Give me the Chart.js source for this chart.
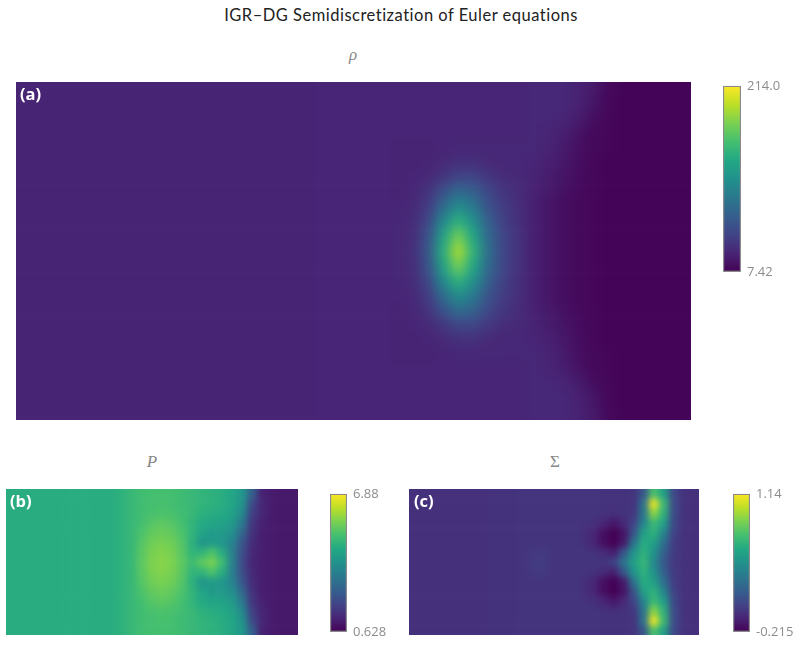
<!DOCTYPE html>
<html><head><meta charset="utf-8">
<script src="https://cdn.jsdelivr.net/npm/chart.js@4"></script>
<style>
html,body{margin:0;padding:0;background:#fff;width:801px;height:657px;overflow:hidden}
.t{position:absolute;white-space:nowrap;transform:translate(-50%,-50%)}
.title{font-family:Lato,sans-serif;font-size:16.5px;color:#222;letter-spacing:.5px}
.sub{font-family:"Liberation Serif",serif;font-style:italic;font-size:17px;color:#888}
.tag{position:absolute;font-family:"Open Sans",sans-serif;font-weight:700;font-size:16.5px;color:#fff;line-height:1}
.heat{position:absolute;overflow:hidden}
.heat canvas{position:absolute}
.bar{position:absolute}
</style></head><body>
<div class="t title" style="left:401px;top:15px">IGR–DG Semidiscretization of Euler equations</div>
<div class="t sub" style="left:353px;top:55px">ρ</div>
<div class="t sub" style="left:152px;top:462px">P</div>
<div class="t sub" style="left:555px;top:462px;font-style:normal">Σ</div>
<div class="heat" id="hA" style="left:16px;top:82px;width:675px;height:338px"><canvas id="cA"></canvas></div>
<div class="heat" id="hB" style="left:6px;top:489px;width:292px;height:146px"><canvas id="cB"></canvas></div>
<div class="heat" id="hC" style="left:409px;top:489px;width:290px;height:146px"><canvas id="cC"></canvas></div>
<div class="tag" style="left:20px;top:86px">(a)</div>
<div class="tag" style="left:10px;top:493px">(b)</div>
<div class="tag" style="left:414px;top:493px">(c)</div>
<canvas class="bar" id="barA"></canvas>
<canvas class="bar" id="barB"></canvas>
<canvas class="bar" id="barC"></canvas>
<script>
// Density rho, one row per horizontal band, top to bottom
const rho00=[28,28,28,28,28,28,28,28,28,28,28,28,28,28,28,28,28,28,28,28,29,29,29,29,29,29,29,29,29,29,29,29,29,29,30,30,30,27,22,12,10,10,10,10,10];
const rho01=[28,28,28,28,28,28,28,28,28,28,28,28,28,28,28,28,28,28,28,28,29,29,29,29,29,29,29,29,29,29,29,29,29,29,30,30,30,27,20,11,10,10,10,10,10];
const rho02=[28,28,28,28,28,28,28,28,28,28,28,28,28,28,28,28,28,28,28,28,29,29,29,29,29,29,29,29,29,29,29,29,29,29,30,30,29,24,15,11,10,10,10,10,10];
const rho03=[28,28,28,28,28,28,28,28,28,28,28,28,28,28,28,28,28,28,28,28,29,29,29,29,29,29,29,29,29,29,29,29,29,29,30,29,25,18,12,11,10,10,10,10,10];
const rho04=[28,28,28,28,28,28,28,28,28,28,28,28,28,28,28,28,28,28,28,28,29,29,29,29,29,28,28,28,29,30,30,30,30,30,30,28,23,16,12,11,10,10,10,10,10];
const rho05=[28,28,28,28,28,28,28,28,28,28,28,28,28,28,28,28,28,28,28,28,29,29,29,29,29,28,28,29,32,36,36,32,30,30,29,26,21,15,11,10,10,10,10,10,10];
const rho06=[28,28,28,28,28,28,28,28,28,28,28,28,28,28,28,28,28,28,28,28,29,29,29,29,29,28,29,31,40,50,50,41,34,31,28,24,19,14,11,10,10,10,10,10,10];
const rho07=[28,28,28,28,28,28,28,28,28,28,28,28,28,28,28,28,28,28,28,28,29,29,29,29,29,28,30,38,60,80,72,52,40,33,27,22,17,13,11,10,10,10,10,10,10];
const rho08=[28,28,28,28,28,28,28,28,28,28,28,28,28,28,28,28,28,28,28,28,29,29,29,29,29,29,31,44,80,108,92,60,44,35,26,20,15,12,11,10,10,10,10,10,10];
const rho09=[28,28,28,28,28,28,28,28,28,28,28,28,28,28,28,28,28,28,28,28,29,29,29,29,29,30,33,52,105,140,112,70,47,36,26,20,15,12,11,10,10,10,10,10,10];
const rho10=[28,28,28,28,28,28,28,28,28,28,28,28,28,28,28,28,28,28,28,28,29,29,29,29,29,30,34,60,125,170,130,78,50,37,26,20,15,12,11,10,10,10,10,10,10];
const rho11=[28,28,28,28,28,28,28,28,28,28,28,28,28,28,28,28,28,28,28,28,29,29,29,29,29,30,35,64,135,188,140,82,50,38,26,20,15,12,11,10,10,10,10,10,10];
const rho12=[28,28,28,28,28,28,28,28,28,28,28,28,28,28,28,28,28,28,28,28,29,29,29,29,29,30,34,60,125,170,130,78,50,37,26,20,15,12,11,10,10,10,10,10,10];
const rho13=[28,28,28,28,28,28,28,28,28,28,28,28,28,28,28,28,28,28,28,28,29,29,29,29,29,30,33,52,105,140,112,70,47,36,26,20,15,12,11,10,10,10,10,10,10];
const rho14=[28,28,28,28,28,28,28,28,28,28,28,28,28,28,28,28,28,28,28,28,29,29,29,29,29,29,31,44,80,108,92,60,44,35,26,20,15,12,11,10,10,10,10,10,10];
const rho15=[28,28,28,28,28,28,28,28,28,28,28,28,28,28,28,28,28,28,28,28,29,29,29,29,29,28,30,38,60,80,72,52,40,33,27,22,17,13,11,10,10,10,10,10,10];
const rho16=[28,28,28,28,28,28,28,28,28,28,28,28,28,28,28,28,28,28,28,28,29,29,29,29,29,28,29,31,40,50,50,41,34,31,28,24,19,14,11,10,10,10,10,10,10];
const rho17=[28,28,28,28,28,28,28,28,28,28,28,28,28,28,28,28,28,28,28,28,29,29,29,29,29,28,28,29,32,36,36,32,30,30,29,26,21,15,11,10,10,10,10,10,10];
const rho18=[28,28,28,28,28,28,28,28,28,28,28,28,28,28,28,28,28,28,28,28,29,29,29,29,29,28,28,28,29,30,30,30,30,30,30,28,23,16,12,11,10,10,10,10,10];
const rho19=[28,28,28,28,28,28,28,28,28,28,28,28,28,28,28,28,28,28,28,28,29,29,29,29,29,29,29,29,29,29,29,29,29,29,30,29,25,18,12,11,10,10,10,10,10];
const rho20=[28,28,28,28,28,28,28,28,28,28,28,28,28,28,28,28,28,28,28,28,29,29,29,29,29,29,29,29,29,29,29,29,29,29,30,30,29,24,15,11,10,10,10,10,10];
const rho21=[28,28,28,28,28,28,28,28,28,28,28,28,28,28,28,28,28,28,28,28,29,29,29,29,29,29,29,29,29,29,29,29,29,29,30,30,30,27,20,11,10,10,10,10,10];
const rho22=[28,28,28,28,28,28,28,28,28,28,28,28,28,28,28,28,28,28,28,28,29,29,29,29,29,29,29,29,29,29,29,29,29,29,30,30,30,27,22,12,10,10,10,10,10];
const rhoRows=[rho00,rho01,rho02,rho03,rho04,rho05,rho06,rho07,rho08,rho09,rho10,rho11,rho12,rho13,rho14,rho15,rho16,rho17,rho18,rho19,rho20,rho21,rho22];

// Pressure P, panel (b)
const p00=[4.5,4.5,4.5,4.5,4.5,4.5,4.5,4.5,4.5,4.5,4.5,4.62,4.8,4.95,5.0,5.0,5.0,4.9,4.8,4.7,4.6,4.5,4.3,3.9,2.5,1.2,1.1,1.05,1.05];
const p01=[4.5,4.5,4.5,4.5,4.5,4.5,4.5,4.5,4.5,4.5,4.5,4.62,4.8,4.95,5.0,5.05,5.0,4.9,4.8,4.7,4.6,4.5,4.3,3.8,2.0,1.3,1.1,1.05,1.05];
const p02=[4.5,4.5,4.5,4.5,4.5,4.5,4.5,4.5,4.5,4.5,4.5,4.62,4.8,4.95,5.05,5.1,5.05,4.95,4.8,4.6,4.5,4.4,4.2,3.5,1.8,1.3,1.1,1.05,1.05];
const p03=[4.5,4.5,4.5,4.5,4.5,4.5,4.5,4.5,4.5,4.5,4.5,4.62,4.8,5.0,5.2,5.3,5.2,5.0,4.7,4.4,4.3,4.2,4.0,3.1,1.6,1.2,1.1,1.05,1.05];
const p04=[4.5,4.5,4.5,4.5,4.5,4.5,4.5,4.5,4.5,4.5,4.5,4.62,4.8,5.1,5.35,5.45,5.35,5.1,4.7,4.25,4.0,4.0,3.7,2.7,1.5,1.15,1.1,1.05,1.05];
const p05=[4.5,4.5,4.5,4.5,4.5,4.5,4.5,4.5,4.5,4.5,4.5,4.62,4.8,5.2,5.5,5.6,5.5,5.2,4.6,3.9,4.05,3.9,3.4,2.3,1.4,1.15,1.1,1.05,1.05];
const p06=[4.5,4.5,4.5,4.5,4.5,4.5,4.5,4.5,4.5,4.5,4.5,4.62,4.8,5.25,5.6,5.7,5.6,5.25,4.7,4.7,5.1,4.5,3.3,2.1,1.35,1.15,1.1,1.05,1.05];
const p07=[4.5,4.5,4.5,4.5,4.5,4.5,4.5,4.5,4.5,4.5,4.5,4.62,4.8,5.3,5.65,5.75,5.65,5.3,4.9,5.3,5.6,4.9,3.4,2.0,1.3,1.15,1.1,1.05,1.05];
const p08=[4.5,4.5,4.5,4.5,4.5,4.5,4.5,4.5,4.5,4.5,4.5,4.62,4.8,5.25,5.6,5.7,5.6,5.25,4.7,4.7,5.1,4.5,3.3,2.1,1.35,1.15,1.1,1.05,1.05];
const p09=[4.5,4.5,4.5,4.5,4.5,4.5,4.5,4.5,4.5,4.5,4.5,4.62,4.8,5.2,5.5,5.6,5.5,5.2,4.6,3.9,4.05,3.9,3.4,2.3,1.4,1.15,1.1,1.05,1.05];
const p10=[4.5,4.5,4.5,4.5,4.5,4.5,4.5,4.5,4.5,4.5,4.5,4.62,4.8,5.1,5.35,5.45,5.35,5.1,4.7,4.25,4.0,4.0,3.7,2.7,1.5,1.15,1.1,1.05,1.05];
const p11=[4.5,4.5,4.5,4.5,4.5,4.5,4.5,4.5,4.5,4.5,4.5,4.62,4.8,5.0,5.2,5.3,5.2,5.0,4.7,4.4,4.3,4.2,4.0,3.1,1.6,1.2,1.1,1.05,1.05];
const p12=[4.5,4.5,4.5,4.5,4.5,4.5,4.5,4.5,4.5,4.5,4.5,4.62,4.8,4.95,5.05,5.1,5.05,4.95,4.8,4.6,4.5,4.4,4.2,3.5,1.8,1.3,1.1,1.05,1.05];
const p13=[4.5,4.5,4.5,4.5,4.5,4.5,4.5,4.5,4.5,4.5,4.5,4.62,4.8,4.95,5.0,5.05,5.0,4.9,4.8,4.7,4.6,4.5,4.3,3.8,2.0,1.3,1.1,1.05,1.05];
const p14=[4.5,4.5,4.5,4.5,4.5,4.5,4.5,4.5,4.5,4.5,4.5,4.62,4.8,4.95,5.0,5.0,5.0,4.9,4.8,4.7,4.6,4.5,4.3,3.9,2.5,1.2,1.1,1.05,1.05];
const pRows=[p00,p01,p02,p03,p04,p05,p06,p07,p08,p09,p10,p11,p12,p13,p14];

// Sigma, panel (c)
const s00=[-.03,-.03,-.03,-.03,-.03,-.03,-.03,-.03,-.02,-.02,-.02,-.01,-.01,-.01,-.01,-.01,-.01,-.01,-.01,-.02,-.02,-.02,-.01,.15,.75,.55,.08,-.02,-.03];
const s01=[-.03,-.03,-.03,-.03,-.03,-.03,-.03,-.03,-.02,-.02,-.02,-.01,-.01,-.01,-.01,-.01,-.01,-.01,-.01,-.02,-.02,-.02,-.01,.3,1.1,.7,.1,-.02,-.03];
const s02=[-.03,-.03,-.03,-.03,-.03,-.03,-.03,-.03,-.02,-.02,-.02,-.01,-.01,-.01,-.01,-.01,-.01,-.01,-.01,-.02,-.03,-.02,0,.32,.9,.65,.1,-.02,-.03];
const s03=[-.03,-.03,-.03,-.03,-.03,-.03,-.03,-.03,-.02,-.02,-.02,-.01,-.01,-.01,-.01,-.01,-.01,-.02,-.03,-.07,-.13,-.06,.06,.4,.7,.55,.08,-.02,-.03];
const s04=[-.03,-.03,-.03,-.03,-.03,-.03,-.03,-.03,-.02,-.02,-.02,-.01,-.01,-.01,-.01,-.01,-.01,-.03,-.07,-.16,-.215,-.14,.13,.55,.65,.4,.05,-.02,-.03];
const s05=[-.03,-.03,-.03,-.03,-.03,-.03,-.03,-.03,-.02,-.02,-.02,-.01,-.01,-.01,-.01,-.01,-.01,-.03,-.07,-.16,-.215,-.12,.3,.62,.55,.28,.03,-.02,-.03];
const s06=[-.03,-.03,-.03,-.03,-.03,-.03,-.03,-.03,-.02,-.02,-.02,-.01,.01,.01,-.01,-.01,-.01,-.01,-.02,-.05,-.1,.15,.48,.65,.48,.2,.02,-.02,-.03];
const s07=[-.03,-.03,-.03,-.03,-.03,-.03,-.03,-.03,-.02,-.02,-.02,-.01,.02,.02,-.01,-.01,-.01,-.01,-.01,-.01,.05,.3,.55,.68,.42,.16,.01,-.02,-.03];
const s08=[-.03,-.03,-.03,-.03,-.03,-.03,-.03,-.03,-.02,-.02,-.02,-.01,.01,.01,-.01,-.01,-.01,-.01,-.02,-.05,-.1,.15,.48,.65,.48,.2,.02,-.02,-.03];
const s09=[-.03,-.03,-.03,-.03,-.03,-.03,-.03,-.03,-.02,-.02,-.02,-.01,-.01,-.01,-.01,-.01,-.01,-.03,-.07,-.16,-.215,-.12,.3,.62,.55,.28,.03,-.02,-.03];
const s10=[-.03,-.03,-.03,-.03,-.03,-.03,-.03,-.03,-.02,-.02,-.02,-.01,-.01,-.01,-.01,-.01,-.01,-.03,-.07,-.16,-.215,-.14,.13,.55,.65,.4,.05,-.02,-.03];
const s11=[-.03,-.03,-.03,-.03,-.03,-.03,-.03,-.03,-.02,-.02,-.02,-.01,-.01,-.01,-.01,-.01,-.01,-.02,-.03,-.07,-.13,-.06,.06,.4,.7,.55,.08,-.02,-.03];
const s12=[-.03,-.03,-.03,-.03,-.03,-.03,-.03,-.03,-.02,-.02,-.02,-.01,-.01,-.01,-.01,-.01,-.01,-.01,-.01,-.02,-.03,-.02,0,.32,.9,.65,.1,-.02,-.03];
const s13=[-.03,-.03,-.03,-.03,-.03,-.03,-.03,-.03,-.02,-.02,-.02,-.01,-.01,-.01,-.01,-.01,-.01,-.01,-.01,-.02,-.02,-.02,-.01,.3,1.1,.7,.1,-.02,-.03];
const s14=[-.03,-.03,-.03,-.03,-.03,-.03,-.03,-.03,-.02,-.02,-.02,-.01,-.01,-.01,-.01,-.01,-.01,-.01,-.01,-.02,-.02,-.02,-.01,.15,.75,.55,.08,-.02,-.03];
const sRows=[s00,s01,s02,s03,s04,s05,s06,s07,s08,s09,s10,s11,s12,s13,s14];

// Colour-bar limits and tick labels
const rhoRange=[7.42,214.0], rhoTicks=["7.42","214.0"];
const pRange=[0.628,6.88], pTicks=["0.628","6.88"];
const sRange=[-0.215,1.14], sTicks=["-0.215","1.14"];
const viridis=["#440154","#482475","#414487","#355f8d","#2a788e","#21918c","#22a884","#44bf70","#7ad151","#bddf26","#fde725"];

Chart.defaults.devicePixelRatio=1;
const rgb=h=>[1,3,5].map(i=>parseInt(h.substr(i,2),16));
function colour(v,[lo,hi]){
  const f=Math.min(1,Math.max(0,(v-lo)/(hi-lo)))*(viridis.length-1);
  const i=Math.min(viridis.length-2,Math.floor(f)),t=f-i,a=rgb(viridis[i]),b=rgb(viridis[i+1]);
  return `rgb(${a.map((c,k)=>Math.round(c+(b[k]-c)*t)).join(",")})`;
}
// Heat map: a stacked bar chart, one stacked band per row. The canvas runs one
// cell past the visible box on each side so that the smoothing has no pale rim.
function heat(id,box,rows,range,blur){
  const pad=r=>[r[0],...r,r[r.length-1]];
  const grid=[pad(rows[0]),...rows.map(pad),pad(rows[rows.length-1])];
  const host=document.getElementById(box),cv=document.getElementById(id);
  const W=host.clientWidth,H=host.clientHeight;
  const cw=W/rows[0].length,ch=H/rows.length;
  cv.width=Math.round(W+2*cw);cv.height=Math.round(H+2*ch);
  cv.style.left=-cw+"px";cv.style.top=-ch+"px";
  cv.style.width=(W+2*cw)+"px";cv.style.height=(H+2*ch)+"px";
  cv.style.filter=`blur(${blur}px)`;
  new Chart(cv,{type:"bar",data:{labels:grid[0].map((_,i)=>i),
    datasets:grid.map((r,j)=>({label:"row "+j,data:r.map(()=>1),values:r,
      backgroundColor:r.map(v=>colour(v,range)),borderWidth:0,barPercentage:1,categoryPercentage:1}))},
    options:{responsive:false,animation:false,layout:{padding:0},
      plugins:{legend:{display:false},tooltip:{enabled:false},title:{display:false}},
      scales:{x:{stacked:true,display:false},y:{stacked:true,display:false,reverse:true,min:0,max:grid.length}}}});
}
// Colour bar: one floating bar with the colour ramp as its fill, and a y axis with two ticks
function cbar(id,left,top,width,barH,range,labels){
  const cv=document.getElementById(id),pt=12,pb=14,W=width+60;
  cv.width=W;cv.height=barH+pt+pb;
  cv.style.left=left+"px";cv.style.top=(top-pt)+"px";
  new Chart(cv,{type:"bar",data:{labels:[""],datasets:[{data:[range],
    backgroundColor:c=>{const a=c.chart.chartArea;if(!a)return viridis[0];
      const g=c.chart.ctx.createLinearGradient(0,a.bottom,0,a.top);
      viridis.forEach((h,i)=>g.addColorStop(i/(viridis.length-1),h));return g;},
    borderColor:"#8a8a8a",borderWidth:1.5,borderSkipped:false,barPercentage:1,categoryPercentage:1}]},
    options:{responsive:false,animation:false,layout:{padding:{top:pt,bottom:pb,left:0,right:0}},
      plugins:{legend:{display:false},tooltip:{enabled:false}},
      scales:{x:{display:false},
        y:{position:"right",min:range[0],max:range[1],grid:{display:false,drawTicks:false},border:{display:false},
          afterBuildTicks:a=>{a.ticks=range.map(v=>({value:v}));},
          afterFit:a=>{a.width=60;},
          ticks:{color:"#8c8c8c",padding:6,autoSkip:false,maxRotation:0,mirror:false,crossAlign:"near",
            font:{family:"'Open Sans',sans-serif",size:13},
            callback:(v)=>labels[range.indexOf(v)]}}}}});
}
heat("cA","hA",rhoRows,rhoRange,6);
heat("cB","hB",pRows,pRange,3.4);
heat("cC","hC",sRows,sRange,3.4);
cbar("barA",723,84,18,188,rhoRange,rhoTicks);
cbar("barB",330,492,17,140,pRange,pTicks);
cbar("barC",733,492,17,140,sRange,sTicks);
</script>
</body></html>
